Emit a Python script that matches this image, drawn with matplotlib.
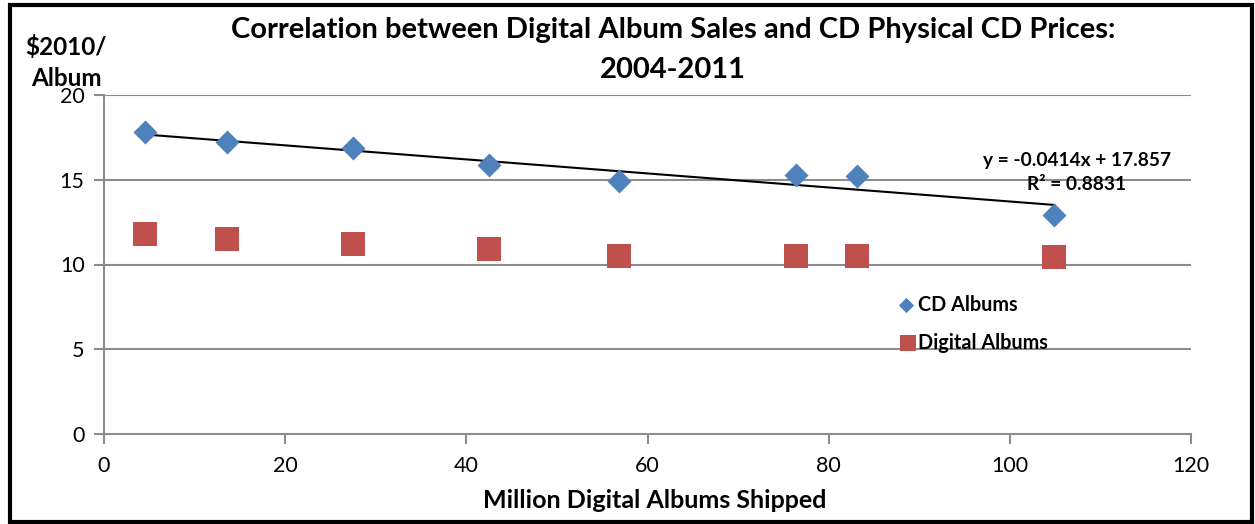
import matplotlib
matplotlib.use("Agg")
import matplotlib.pyplot as plt
from matplotlib.patches import Rectangle

plt.rcParams['font.family'] = ['Lato', 'DejaVu Sans']

# Data
digital_albums = [4.5, 13.6, 27.5, 42.5, 56.8, 76.4, 83.1, 104.9]
cd_prices = [17.8, 17.2, 16.9, 15.85, 14.9, 15.3, 15.25, 12.9]
digital_prices = [11.8, 11.5, 11.2, 10.9, 10.5, 10.5, 10.5, 10.45]
trend_slope = -0.0414
trend_intercept = 17.857
r_squared = 0.8831
x_ticks = [0, 20, 40, 60, 80, 100, 120]
y_ticks = [0, 5, 10, 15, 20]

W, H = 1255, 524
fig = plt.figure(figsize=(W / 100, H / 100), dpi=100)
ax = fig.add_axes([104 / W, 1 - 434 / H, (1191 - 104) / W, (434 - 95) / H])

grid_c = '#8c8c8c'
ax.set_xlim(0, 120)
ax.set_ylim(0, 20)
ax.set_xticks(x_ticks)
ax.set_yticks(y_ticks)
for yv in y_ticks[1:]:
    ax.axhline(yv, color=grid_c, lw=1.5, zorder=1)
for s in ['top', 'right']:
    ax.spines[s].set_visible(False)
for s in ['left', 'bottom']:
    ax.spines[s].set_color(grid_c)
    ax.spines[s].set_linewidth(1.5)
ax.tick_params(axis='both', colors=grid_c, length=7, width=1.5, labelcolor='black',
               labelsize=15.5, direction='out')
ax.tick_params(axis='x', pad=9)
ax.tick_params(axis='y', pad=7)

# trendline
xs = [min(digital_albums), max(digital_albums)]
ax.plot(xs, [trend_slope * v + trend_intercept for v in xs], color='black', lw=1.5, zorder=3)

ax.scatter(digital_albums, cd_prices, marker='D', s=150, color='#4f81bd', zorder=4,
           linewidths=0, label='CD Albums')
ax.scatter(digital_albums, digital_prices, marker='s', s=280, color='#c0504d', zorder=4,
           linewidths=0, label='Digital Albums')

fig.text(1077 / W, 1 - 160 / H, f"y = {trend_slope}x + {trend_intercept}",
         ha='center', va='center', fontsize=13.8, fontweight='bold')
fig.text(1077 / W, 1 - 185 / H, f"R² = {r_squared}",
         ha='center', va='center', fontsize=13.8, fontweight='bold')

# legend (manual positions)
ax.scatter([906 / W], [1 - 305 / H], marker='D', s=60, color='#4f81bd', linewidths=0,
           transform=fig.transFigure, clip_on=False, zorder=5)
ax.scatter([908 / W], [1 - 343 / H], marker='s', s=120, color='#c0504d', linewidths=0,
           transform=fig.transFigure, clip_on=False, zorder=5)
fig.text(918 / W, 1 - 305 / H, 'CD Albums', ha='left', va='center', fontsize=14.3, fontweight='bold')
fig.text(918 / W, 1 - 343 / H, 'Digital Albums', ha='left', va='center', fontsize=14.3, fontweight='bold')

fig.text(673 / W, 1 - 30 / H, 'Correlation between Digital Album Sales and CD Physical CD Prices:',
         ha='center', va='center', fontsize=21, fontweight='bold')
fig.text(673 / W, 1 - 70 / H, '2004-2011', ha='center', va='center', fontsize=21, fontweight='bold')
fig.text(655 / W, 1 - 500 / H, 'Million Digital Albums Shipped', ha='center', va='center',
         fontsize=18, fontweight='bold')
fig.text(66 / W, 1 - 47 / H, '$2010/', ha='center', va='center', fontsize=17.5, fontweight='bold')
fig.text(66 / W, 1 - 78 / H, 'Album', ha='center', va='center', fontsize=17.5, fontweight='bold')

# outer frame
fig.patches.append(Rectangle((10 / W, 2 / H), (W - 13) / W, (H - 7) / H, transform=fig.transFigure,
                             fill=False, edgecolor='black', lw=3))

fig.savefig('out.png', dpi=100)
